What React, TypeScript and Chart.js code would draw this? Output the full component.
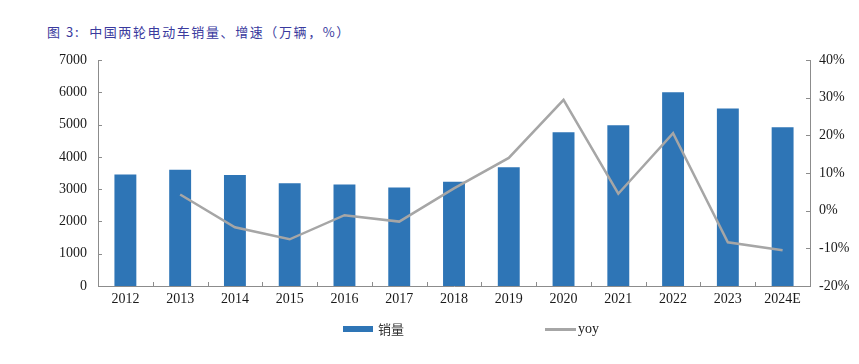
import React, { useEffect, useRef } from "react";
import { Chart, registerables } from "chart.js";

Chart.register(...registerables);

const categories = ["2012", "2013", "2014", "2015", "2016", "2017", "2018", "2019", "2020", "2021", "2022", "2023", "2024E"];
const sales = [3450, 3600, 3440, 3180, 3140, 3050, 3230, 3680, 4760, 4980, 6000, 5500, 4920];
const yoy = [null, 4.3, -4.4, -7.6, -1.2, -2.9, 5.9, 14.0, 29.4, 4.5, 20.6, -8.4, -10.5];
const salesLabel = "销量";
const yoyLabel = "yoy";
const titleText = "图 3:  中国两轮电动车销量、增速（万辆，%）";

const BAR_COLOR = "#2E75B6";
const LINE_COLOR = "#A6A6A6";
const AXIS_COLOR = "#8C8C8C";
const TEXT_COLOR = "#1a1a1a";
const SERIF = "'Liberation Serif', 'Times New Roman', serif";

const innerTicks = {
  id: "innerTicks",
  afterDraw(chart: any) {
    const ctx = chart.ctx;
    const { left, right, bottom } = chart.chartArea;
    const len = 4;
    ctx.save();
    ctx.strokeStyle = AXIS_COLOR;
    ctx.lineWidth = 1;
    const line = (x1: number, y1: number, x2: number, y2: number) => {
      ctx.beginPath();
      ctx.moveTo(x1, y1);
      ctx.lineTo(x2, y2);
      ctx.stroke();
    };
    const y = chart.scales.y;
    y.ticks.forEach((_: any, i: number) => {
      const p = Math.round(y.getPixelForTick(i)) + 0.5;
      line(left, p, left + len, p);
    });
    const y1 = chart.scales.y1;
    y1.ticks.forEach((_: any, i: number) => {
      const p = Math.round(y1.getPixelForTick(i)) + 0.5;
      line(right - len, p, right, p);
    });
    const x = chart.scales.x;
    for (let i = 1; i < categories.length; i++) {
      const p = Math.round(x.getPixelForValue(i - 0.5)) + 0.5;
      line(p, bottom - len, p, bottom);
    }
    ctx.restore();
  },
};

export default function App() {
  const ref = useRef<HTMLCanvasElement | null>(null);

  useEffect(() => {
    if (!ref.current) return;
    const chart = new Chart(ref.current, {
      type: "bar",
      data: {
        labels: categories,
        datasets: [
          {
            type: "line",
            label: yoyLabel,
            data: yoy as any,
            yAxisID: "y1",
            borderColor: LINE_COLOR,
            backgroundColor: LINE_COLOR,
            borderWidth: 2.5,
            pointRadius: 0,
            tension: 0,
            spanGaps: true,
            order: 1,
          } as any,
          {
            type: "bar",
            label: salesLabel,
            data: sales,
            yAxisID: "y",
            backgroundColor: BAR_COLOR,
            barPercentage: 0.4,
            categoryPercentage: 1,
            order: 2,
          },
        ],
      },
      options: {
        responsive: false,
        animation: false,
        layout: { padding: { left: 0, right: 0, top: 60, bottom: 48 } },
        plugins: {
          legend: { display: false },
          tooltip: { enabled: false },
          title: { display: false },
        },
        scales: {
          x: {
            offset: true,
            grid: { display: false, drawTicks: false },
            border: { display: true, color: AXIS_COLOR, width: 1 },
            ticks: { color: TEXT_COLOR, font: { family: SERIF, size: 14 }, padding: 5, maxRotation: 0, autoSkip: false },
            afterFit: (s: any) => { s.height = 30; },
          },
          y: {
            position: "left",
            min: 0,
            max: 7000,
            grid: { display: false, drawTicks: false },
            border: { display: true, color: AXIS_COLOR, width: 1 },
            ticks: {
              stepSize: 1000,
              color: TEXT_COLOR,
              font: { family: SERIF, size: 14 },
              padding: 11,
              callback: (v: any) => String(v),
            },
            afterFit: (s: any) => { s.width = 98; },
          },
          y1: {
            position: "right",
            min: -20,
            max: 40,
            grid: { display: false, drawTicks: false },
            border: { display: true, color: AXIS_COLOR, width: 1 },
            ticks: {
              stepSize: 10,
              color: TEXT_COLOR,
              font: { family: SERIF, size: 14 },
              padding: 9,
              callback: (v: any) => `${v}%`,
            },
            afterFit: (s: any) => { s.width = 49; },
          },
        },
      },
      plugins: [innerTicks],
    });
    return () => chart.destroy();
  }, []);

  return (
    <div style={{ position: "absolute", left: 0, top: 0, width: 859, height: 364, background: "#fff" }}>
      <div
        style={{
          position: "absolute",
          left: 47,
          top: 23,
          fontFamily: "'Noto Sans CJK SC', 'Noto Sans', sans-serif",
          fontSize: 13,
          letterSpacing: 1.6,
          color: "#3A3A9E",
          whiteSpace: "pre",
          lineHeight: "18px",
        }}
      >
        {titleText}
      </div>
      <canvas ref={ref} width={859} height={364} style={{ position: "absolute", left: 0, top: 0 }} />
      <div style={{ position: "absolute", left: 343, top: 326, width: 30, height: 6, background: BAR_COLOR }} />
      <div
        style={{
          position: "absolute",
          left: 378,
          top: 320,
          fontFamily: "'Noto Sans CJK SC', sans-serif",
          fontSize: 13,
          lineHeight: "18px",
          color: "#333",
        }}
      >
        {salesLabel}
      </div>
      <div style={{ position: "absolute", left: 545, top: 328, width: 31, height: 2.5, background: LINE_COLOR }} />
      <div
        style={{
          position: "absolute",
          left: 578,
          top: 320,
          fontFamily: SERIF,
          fontSize: 14,
          lineHeight: "18px",
          color: TEXT_COLOR,
        }}
      >
        {yoyLabel}
      </div>
    </div>
  );
}
